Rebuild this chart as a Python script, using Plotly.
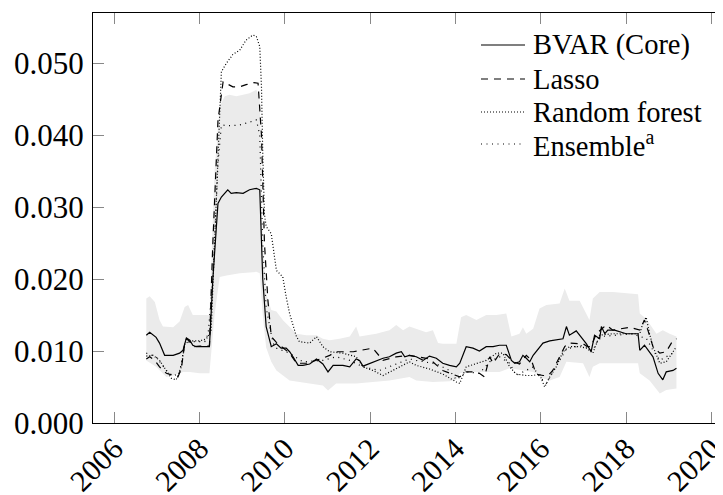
import plotly.graph_objects as go

# ---- data (decimal years) ----
bvar_x = [2006.75, 2006.83, 2006.98, 2007.06, 2007.18, 2007.38, 2007.53, 2007.61, 2007.69, 2007.77,
          2007.84, 2007.92, 2008.23, 2008.31, 2008.43, 2008.51, 2008.66, 2008.74, 2008.86, 2009.02,
          2009.17, 2009.33, 2009.41, 2009.48, 2009.56, 2009.68, 2009.80, 2009.91, 2010.03, 2010.11,
          2010.19, 2010.31, 2010.42, 2010.58, 2010.74, 2010.89, 2011.01, 2011.13, 2011.36, 2011.52,
          2011.67, 2011.75, 2011.83, 2011.99, 2012.14, 2012.30, 2012.45, 2012.61, 2012.73, 2012.81,
          2012.92, 2013.08, 2013.24, 2013.39, 2013.55, 2013.70, 2013.86, 2014.02, 2014.10, 2014.25,
          2014.41, 2014.56, 2014.72, 2014.88, 2015.03, 2015.19, 2015.31, 2015.39, 2015.50, 2015.58,
          2015.66, 2015.74, 2015.82, 2015.97, 2016.05, 2016.21, 2016.36, 2016.52, 2016.60, 2016.67,
          2016.83, 2016.99, 2017.07, 2017.18, 2017.26, 2017.38, 2017.42, 2017.50, 2017.57, 2017.73,
          2017.85, 2018.00, 2018.28, 2018.32, 2018.43, 2018.63, 2018.75, 2018.86, 2018.94, 2019.10,
          2019.18]
bvar_y = [0.0122, 0.0126, 0.0119, 0.0111, 0.0094, 0.0094, 0.0097, 0.0101, 0.0118, 0.0115,
          0.0108, 0.0106, 0.0106, 0.0200, 0.0305, 0.0314, 0.0324, 0.0319, 0.0320, 0.0319,
          0.0324, 0.0326, 0.0324, 0.0200, 0.0134, 0.0106, 0.0110, 0.0104, 0.0104, 0.0099,
          0.0092, 0.0080, 0.0080, 0.0082, 0.0089, 0.0082, 0.0071, 0.0080, 0.0080, 0.0078,
          0.0089, 0.0087, 0.0079, 0.0083, 0.0087, 0.0090, 0.0092, 0.0097, 0.0099, 0.0092,
          0.0094, 0.0092, 0.0087, 0.0093, 0.0090, 0.0083, 0.0080, 0.0078, 0.0083, 0.0106,
          0.0104, 0.0100, 0.0106, 0.0106, 0.0108, 0.0108, 0.0087, 0.0083, 0.0085, 0.0094,
          0.0090, 0.0085, 0.0094, 0.0106, 0.0111, 0.0114, 0.0115, 0.0117, 0.0134, 0.0122,
          0.0128, 0.0117, 0.0110, 0.0099, 0.0122, 0.0117, 0.0134, 0.0124, 0.0129, 0.0129,
          0.0127, 0.0124, 0.0124, 0.0101, 0.0108, 0.0092, 0.0069, 0.0060, 0.0071, 0.0073,
          0.0076]

lasso_x = [2006.75, 2006.83, 2006.95, 2007.06, 2007.22, 2007.49, 2007.57, 2007.65, 2007.69, 2007.77,
           2007.84, 2008.00, 2008.23, 2008.31, 2008.43, 2008.55, 2008.78, 2008.94, 2009.09, 2009.25,
           2009.37, 2009.45, 2009.52, 2009.60, 2009.68, 2009.80, 2010.11, 2010.27, 2010.50, 2010.89,
           2011.05, 2011.20, 2011.60, 2011.83, 2012.06, 2012.30, 2012.61, 2012.92, 2013.08, 2013.39,
           2013.70, 2013.86, 2014.02, 2014.10, 2014.25, 2014.41, 2014.56, 2014.68, 2014.80, 2014.88,
           2015.03, 2015.19, 2015.35, 2015.50, 2015.66, 2015.78, 2015.89, 2016.05, 2016.17, 2016.28,
           2016.44, 2016.56, 2016.64, 2016.75, 2016.99, 2017.10, 2017.18, 2017.30, 2017.42, 2017.53,
           2017.69, 2017.85, 2018.08, 2018.32, 2018.43, 2018.51, 2018.63, 2018.79, 2018.94, 2019.10,
           2019.18]
lasso_y = [0.0089, 0.0092, 0.0087, 0.0078, 0.0069, 0.0064, 0.0075, 0.0110, 0.0117, 0.0113,
           0.0106, 0.0107, 0.0107, 0.0250, 0.0420, 0.0474, 0.0467, 0.0467, 0.0470, 0.0473,
           0.0472, 0.0400, 0.0250, 0.0171, 0.0120, 0.0112, 0.0097, 0.0083, 0.0083, 0.0090,
           0.0094, 0.0099, 0.0099, 0.0101, 0.0104, 0.0087, 0.0092, 0.0094, 0.0092, 0.0089,
           0.0073, 0.0069, 0.0066, 0.0064, 0.0071, 0.0071, 0.0069, 0.0064, 0.0092, 0.0083,
           0.0096, 0.0095, 0.0085, 0.0082, 0.0094, 0.0087, 0.0068, 0.0066, 0.0066, 0.0073,
           0.0092, 0.0106, 0.0111, 0.0111, 0.0110, 0.0106, 0.0106, 0.0124, 0.0131, 0.0136,
           0.0129, 0.0131, 0.0133, 0.0129, 0.0143, 0.0129, 0.0106, 0.0097, 0.0099, 0.0115,
           0.0117]

rf_x = [2006.75, 2006.91, 2007.06, 2007.22, 2007.34, 2007.45, 2007.57, 2007.65, 2007.77, 2008.00,
        2008.16, 2008.27, 2008.39, 2008.51, 2008.63, 2008.78, 2008.94, 2009.09, 2009.25, 2009.33,
        2009.41, 2009.45, 2009.48, 2009.52, 2009.56, 2009.68, 2009.80, 2009.95, 2010.03, 2010.11,
        2010.27, 2010.34, 2010.58, 2010.74, 2010.89, 2011.05, 2011.36, 2011.67, 2011.83, 2012.06,
        2012.30, 2012.61, 2012.92, 2013.08, 2013.39, 2013.70, 2013.86, 2014.02, 2014.10, 2014.25,
        2014.72, 2014.96, 2015.11, 2015.27, 2015.42, 2015.66, 2015.82, 2015.97, 2016.09, 2016.21,
        2016.36, 2016.52, 2016.67, 2016.91, 2017.07, 2017.22, 2017.38, 2017.69, 2018.16, 2018.32,
        2018.39, 2018.47, 2018.55, 2018.63, 2018.79, 2018.94, 2019.02, 2019.18]
rf_y = [0.0093, 0.0094, 0.0087, 0.0073, 0.0062, 0.0060, 0.0078, 0.0110, 0.0114, 0.0114,
        0.0117, 0.0128, 0.0300, 0.0488, 0.0500, 0.0512, 0.0518, 0.0532, 0.0539, 0.0537,
        0.0523, 0.0467, 0.0375, 0.0290, 0.0273, 0.0263, 0.0212, 0.0203, 0.0175, 0.0152,
        0.0120, 0.0113, 0.0111, 0.0120, 0.0106, 0.0099, 0.0097, 0.0092, 0.0078, 0.0073,
        0.0066, 0.0076, 0.0085, 0.0080, 0.0075, 0.0068, 0.0062, 0.0057, 0.0055, 0.0078,
        0.0087, 0.0097, 0.0097, 0.0078, 0.0068, 0.0066, 0.0066, 0.0068, 0.0050, 0.0064,
        0.0078, 0.0099, 0.0106, 0.0106, 0.0104, 0.0097, 0.0122, 0.0124, 0.0124, 0.0124,
        0.0138, 0.0147, 0.0124, 0.0106, 0.0083, 0.0085, 0.0092, 0.0106]

ens_x = [2006.75, 2006.98, 2007.22, 2007.38, 2007.53, 2007.65, 2007.77, 2007.92, 2008.12, 2008.20,
         2008.31, 2008.43, 2008.51, 2008.70, 2008.94, 2009.17, 2009.33, 2009.41, 2009.48, 2009.56,
         2009.72, 2009.80, 2010.11, 2010.42, 2010.89, 2011.20, 2011.52, 2011.83, 2012.22, 2012.61,
         2012.92, 2013.08, 2013.55, 2013.86, 2014.02, 2014.25, 2014.56, 2014.80, 2015.03, 2015.27,
         2015.42, 2015.82, 2015.97, 2016.13, 2016.28, 2016.44, 2016.60, 2016.99, 2017.22, 2017.38,
         2018.16, 2018.32, 2018.47, 2018.63, 2018.79, 2018.94, 2019.10, 2019.18]
ens_y = [0.0097, 0.0092, 0.0073, 0.0065, 0.0070, 0.0110, 0.0113, 0.0113, 0.0113, 0.0124,
         0.0200, 0.0360, 0.0414, 0.0413, 0.0414, 0.0418, 0.0421, 0.0400, 0.0250, 0.0160,
         0.0111, 0.0104, 0.0097, 0.0085, 0.0087, 0.0092, 0.0087, 0.0078, 0.0073, 0.0082,
         0.0089, 0.0087, 0.0082, 0.0073, 0.0060, 0.0071, 0.0069, 0.0085, 0.0092, 0.0083,
         0.0066, 0.0078, 0.0064, 0.0055, 0.0071, 0.0087, 0.0103, 0.0108, 0.0101, 0.0120,
         0.0124, 0.0120, 0.0118, 0.0101, 0.0087, 0.0092, 0.0097, 0.0097]

band_hi_x = [2006.75, 2006.83, 2006.95, 2007.06, 2007.14, 2007.38, 2007.53, 2007.65, 2007.73, 2007.84,
             2008.23, 2008.35, 2008.47, 2008.59, 2008.70, 2008.86, 2009.02, 2009.17, 2009.33, 2009.41,
             2009.48, 2009.56, 2009.68, 2009.80, 2009.95, 2010.11, 2010.27, 2010.50, 2010.74, 2010.89,
             2011.05, 2011.28, 2011.52, 2011.67, 2011.75, 2012.14, 2012.45, 2012.61, 2012.77, 2012.92,
             2013.08, 2013.31, 2013.47, 2013.59, 2013.70, 2014.02, 2014.13, 2014.25, 2014.49, 2014.72,
             2014.96, 2015.19, 2015.31, 2015.50, 2015.58, 2015.66, 2015.82, 2015.97, 2016.13, 2016.44,
             2016.56, 2016.67, 2016.91, 2017.14, 2017.22, 2017.38, 2017.69, 2018.16, 2018.28, 2018.32,
             2018.47, 2018.71, 2018.86, 2019.02, 2019.18]
band_hi_y = [0.0173, 0.0176, 0.0168, 0.0143, 0.0134, 0.0133, 0.0141, 0.0161, 0.0164, 0.0150,
             0.0150, 0.0350, 0.0440, 0.0454, 0.0456, 0.0454, 0.0456, 0.0458, 0.0463, 0.0450,
             0.0250, 0.0180, 0.0157, 0.0155, 0.0143, 0.0133, 0.0124, 0.0122, 0.0122, 0.0117,
             0.0115, 0.0117, 0.0120, 0.0134, 0.0120, 0.0124, 0.0129, 0.0136, 0.0129, 0.0134,
             0.0131, 0.0126, 0.0129, 0.0111, 0.0110, 0.0110, 0.0147, 0.0150, 0.0143, 0.0150,
             0.0150, 0.0152, 0.0120, 0.0124, 0.0133, 0.0124, 0.0131, 0.0159, 0.0164, 0.0166,
             0.0187, 0.0170, 0.0170, 0.0143, 0.0173, 0.0182, 0.0182, 0.0179, 0.0179, 0.0152,
             0.0145, 0.0124, 0.0129, 0.0124, 0.0120]

band_lo_x = [2006.75, 2006.98, 2007.22, 2007.38, 2007.61, 2007.77, 2008.00, 2008.23, 2008.35, 2008.47,
             2008.63, 2008.94, 2009.17, 2009.33, 2009.41, 2009.48, 2009.56, 2009.68, 2009.80, 2010.11,
             2010.50, 2010.89, 2011.01, 2011.20, 2011.67, 2012.06, 2012.45, 2012.92, 2013.08, 2013.47,
             2013.86, 2014.02, 2014.10, 2014.25, 2015.03, 2015.27, 2015.82, 2016.05, 2016.21, 2016.44,
             2016.60, 2016.99, 2017.14, 2017.22, 2017.38, 2018.28, 2018.32, 2018.55, 2018.79, 2018.94,
             2019.18]
band_lo_y = [0.0087, 0.0078, 0.0064, 0.0066, 0.0071, 0.0071, 0.0069, 0.0069, 0.0150, 0.0203,
             0.0205, 0.0208, 0.0209, 0.0210, 0.0208, 0.0150, 0.0105, 0.0085, 0.0073, 0.0059,
             0.0055, 0.0052, 0.0045, 0.0055, 0.0055, 0.0057, 0.0059, 0.0064, 0.0059, 0.0057,
             0.0058, 0.0060, 0.0069, 0.0071, 0.0071, 0.0076, 0.0071, 0.0062, 0.0059, 0.0064,
             0.0085, 0.0083, 0.0064, 0.0078, 0.0083, 0.0083, 0.0069, 0.0059, 0.0041, 0.0046,
             0.0048]

x_ticks = [2006, 2008, 2010, 2012, 2014, 2016, 2018, 2020]
y_ticks = [0.0, 0.01, 0.02, 0.03, 0.04, 0.05]
series_names = ["BVAR (Core)", "Lasso", "Random forest", "Ensemble<sup>a</sup>"]

FONT = "Liberation Serif"
OFF = 8                       # default page (body) margin of the html page
W, H = 723 - OFF, 495 - OFF
ML, MR, MT, MB = 93 - OFF, 0, 13 - OFF, 72
PW, PH = W - ML - MR, H - MT - MB

line_w = 1.2
styles = [dict(color="black", width=line_w),
          dict(color="black", width=line_w, dash="7px,6px"),
          dict(color="black", width=line_w, dash="1px,2px"),
          dict(color="black", width=line_w, dash="1px,4.5px")]

fig = go.Figure()
fig.add_trace(go.Scatter(
    x=band_hi_x + band_lo_x[::-1], y=band_hi_y + band_lo_y[::-1],
    fill="toself", fillcolor="#ebebeb", line=dict(width=0), mode="lines",
    showlegend=False, hoverinfo="skip"))

for name, xs, ys, st in zip(series_names, [bvar_x, lasso_x, rf_x, ens_x],
                            [bvar_y, lasso_y, rf_y, ens_y], styles):
    fig.add_trace(go.Scatter(x=xs, y=ys, mode="lines", name=name, line=st,
                             showlegend=False))

# legend drawn as line samples + text (no box, tight rows as in the reference)
leg_x0, leg_x1, leg_tx = 481 - OFF, 525 - OFF, 531 - OFF
leg_rows = [45 - OFF, 79 - OFF, 112 - OFF, 144 - OFF]
for name, st, py in zip(series_names, styles, leg_rows):
    yp = (H - MB - py) / PH
    fig.add_shape(type="line", xref="paper", yref="paper",
                  x0=(leg_x0 - ML) / PW, x1=(leg_x1 - ML) / PW, y0=yp, y1=yp,
                  line=st)
    fig.add_annotation(xref="paper", yref="paper", x=(leg_tx - ML) / PW, y=yp,
                       xanchor="left", yanchor="middle", showarrow=False,
                       text=name, font=dict(family=FONT, size=28.5, color="black"))

fig.update_layout(
    width=W, height=H,
    margin=dict(l=ML, r=MR, t=MT, b=MB, pad=0),
    paper_bgcolor="white", plot_bgcolor="white",
    font=dict(family=FONT, color="black", size=30),
    showlegend=False,
    xaxis=dict(range=[2005.5, 2005.5 + PW / 42.65], tickvals=x_ticks,
               ticktext=[str(v) for v in x_ticks], tickangle=-45,
               ticks="inside", ticklen=11, tickcolor="#888", tickwidth=1,
               showline=True, linecolor="black", linewidth=1.2, mirror="ticks",
               showgrid=False, zeroline=False, automargin=False,
               ticklabelstandoff=-5, ticklabeloverflow="allow",
               tickfont=dict(family=FONT, size=30)),
    yaxis=dict(range=[0, 0.05696], tickvals=y_ticks, tickformat=".3f",
               ticks="inside", ticklen=11, tickcolor="#888", tickwidth=1,
               showline=True, linecolor="black", linewidth=1.2,
               showgrid=False, zeroline=False, automargin=False,
               ticklabelstandoff=2,
               tickfont=dict(family=FONT, size=31)),
)

fig.write_html("out.html")
